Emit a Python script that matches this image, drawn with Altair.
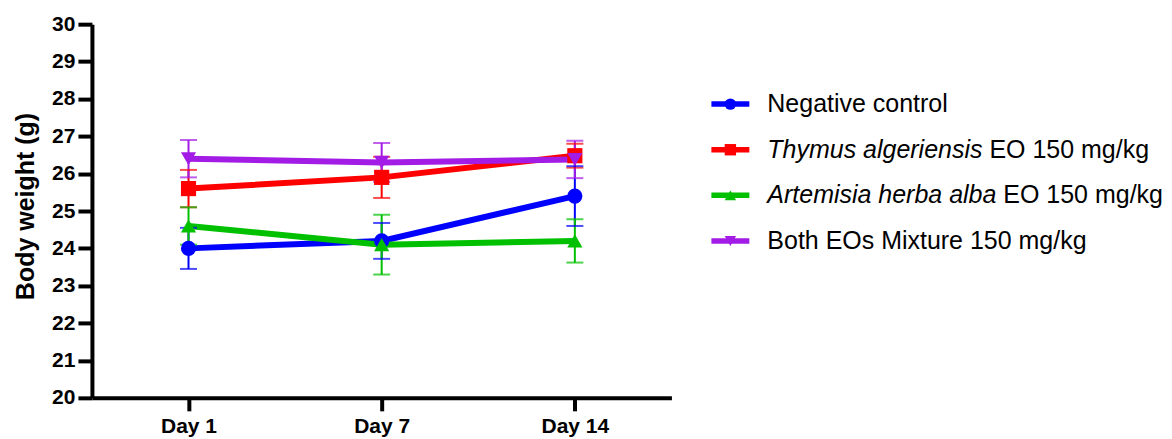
import altair as alt
import pandas as pd

days = ["Day 1", "Day 7", "Day 14"]
series = [
    "Negative control",
    "Thymus algeriensis EO 150 mg/kg",
    "Artemisia herba alba EO 150 mg/kg",
    "Both EOs Mixture 150 mg/kg",
]
italic_parts = ["", "Thymus algeriensis", "Artemisia herba alba", ""]
regular_parts = ["Negative control", "EO 150 mg/kg", "EO 150 mg/kg", "Both EOs Mixture 150 mg/kg"]
colors = ["#0000FF", "#FF0000", "#00C000", "#A21CE6"]
shapes = ["circle", "square", "triangle-up", "triangle-down"]

neg_mean = [24.0, 24.2, 25.4]
neg_err = [0.55, 0.48, 0.8]
thy_mean = [25.6, 25.9, 26.48]
thy_err = [0.5, 0.55, 0.32]
art_mean = [24.6, 24.1, 24.2]
art_err = [0.5, 0.8, 0.58]
mix_mean = [26.4, 26.3, 26.38]
mix_err = [0.5, 0.52, 0.5]

means = [neg_mean, thy_mean, art_mean, mix_mean]
errs = [neg_err, thy_err, art_err, mix_err]

FONT = "Liberation Sans"
LEG_FS = 25
LEG_TX = 96

# Arial / Liberation Sans advance widths (per 1000 em)
char_w = {
    "T": 611, "h": 556, "y": 500, "m": 833, "u": 556, "s": 500, " ": 278,
    "a": 556, "l": 222, "g": 556, "e": 556, "r": 333, "i": 222, "n": 556,
    "A": 667, "t": 278, "b": 556,
}


def text_width(s, fs):
    if not s:
        return 0.0
    return sum(char_w.get(c, 556) for c in s + " ") * fs / 1000.0


rows = []
for s, m, e in zip(series, means, errs):
    for d, mv, ev in zip(days, m, e):
        rows.append({"series": s, "day": d, "mean": mv, "lo": mv - ev, "hi": mv + ev})
df = pd.DataFrame(rows)

color = alt.Color("series:N", scale=alt.Scale(domain=series, range=colors), legend=None)
shape = alt.Shape("series:N", scale=alt.Scale(domain=series, range=shapes), legend=None)
xaxis = alt.Axis(
    title=None,
    labelAngle=0,
    labelFontSize=21,
    labelFontWeight="bold",
    labelColor="black",
    labelPadding=5,
    tickSize=13,
    tickWidth=4,
    tickColor="black",
    domainWidth=4,
    domainColor="black",
    grid=False,
)
xdata = alt.X("day:N", sort=days, scale=alt.Scale(type="point", padding=0.5), axis=xaxis)
yscale = alt.Scale(domain=[20, 30], nice=False, zero=False)
yaxis = alt.Axis(
    values=list(range(20, 31)),
    title="Body weight (g)",
    titleFontSize=25,
    titleFontWeight="bold",
    titleColor="black",
    titlePadding=13,
    titleY=182,
    labelFontSize=21,
    labelFontWeight="bold",
    labelColor="black",
    labelPadding=3,
    tickSize=14,
    tickWidth=4,
    tickColor="black",
    domainWidth=4,
    domainColor="black",
    grid=False,
)


def yenc(field):
    return alt.Y(f"{field}:Q", scale=yscale, axis=yaxis)


base = alt.Chart(df)
lines = base.mark_line(strokeWidth=6).encode(x=xdata, y=yenc("mean"), color=color)
bars = base.mark_rule(strokeWidth=2).encode(x=xdata, y=yenc("lo"), y2="hi:Q", color=color)
caps_lo = base.mark_tick(size=17, thickness=2).encode(x=xdata, y=yenc("lo"), color=color)
caps_hi = base.mark_tick(size=17, thickness=2).encode(x=xdata, y=yenc("hi"), color=color)
points = base.mark_point(filled=True, size=230, opacity=1).encode(
    x=xdata, y=yenc("mean"), color=color, shape=shape
)

main = alt.layer(lines, bars, caps_lo, caps_hi, points).properties(width=580, height=374)

# custom legend
leg = pd.DataFrame(
    {
        "series": series,
        "row": list(range(len(series))),
        "ital": italic_parts,
        "reg": regular_parts,
        "xr": [LEG_TX + text_width(t, LEG_FS) for t in italic_parts],
    }
)
ly = alt.Y(
    "row:Q",
    scale=alt.Scale(domain=[0, len(series) - 1], range=[80, 217], nice=False, zero=False),
    axis=None,
)
lbase = alt.Chart(leg)
leg_line = lbase.mark_rule(strokeWidth=5.5).encode(
    x=alt.value(40), x2=alt.value(78), y=ly, color=color
)
leg_pt = lbase.mark_point(filled=True, size=130, opacity=1).encode(
    x=alt.value(59), y=ly, color=color, shape=shape
)
leg_it = lbase.mark_text(
    align="left", baseline="middle", fontSize=LEG_FS, fontStyle="italic", color="black"
).encode(x=alt.value(LEG_TX), y=ly, text="ital:N")
leg_rg = lbase.mark_text(
    align="left", baseline="middle", fontSize=LEG_FS, color="black"
).encode(x=alt.X("xr:Q", scale=None), y=ly, text="reg:N")

legend = alt.layer(leg_line, leg_pt, leg_it, leg_rg).properties(width=470, height=374)

chart = (
    alt.hconcat(main, legend, spacing=0)
    .properties(padding={"left": 5, "top": 5, "right": 0, "bottom": 0})
    .configure(font=FONT)
    .configure_view(stroke=None)
)

chart.save("out.html", embed_options={"renderer": "svg", "actions": False})
